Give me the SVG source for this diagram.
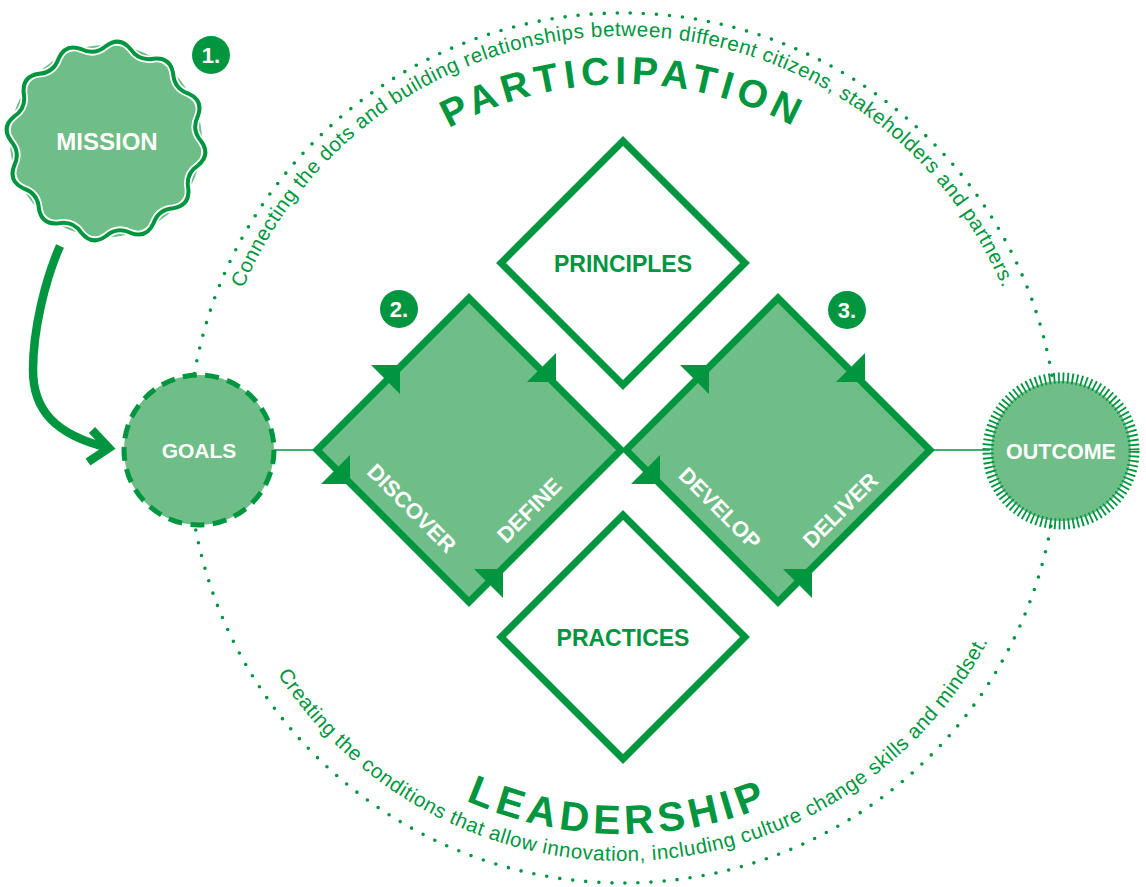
<svg xmlns="http://www.w3.org/2000/svg" xmlns:xlink="http://www.w3.org/1999/xlink" width="1146" height="887" viewBox="0 0 1146 887">
<style>
.dk{fill:#009640}
.lt{fill:#6fbd87}
.ln{fill:none;stroke:#009640}
.lbl{font-family:"Liberation Sans",Arial,sans-serif;font-weight:bold;fill:#ffffff;text-anchor:middle}
.glbl{font-family:"Liberation Sans",Arial,sans-serif;font-weight:bold;fill:#009640;text-anchor:middle}
.arc{font-family:"Liberation Sans",Arial,sans-serif;font-size:20.5px;fill:#009640}
.big{font-family:"Liberation Sans",Arial,sans-serif;font-weight:bold;fill:#009640}
</style>
<defs>
<path id="pTop" d="M 211 448 A 412 412 0 0 1 1035 448"/>
<path id="pBot" d="M 210 448 A 413 413 0 0 0 1036 448"/>
<path id="pPart" d="M 259 448 A 364 364 0 0 1 987 448"/>
<path id="pLead" d="M 237 448 A 386 386 0 0 0 1009 448"/>
<path id="ne" d="M0 0 L-29 0 L0 29Z" fill="#009640"/>
<path id="se" d="M0 0 L0 -29 L-29 0Z" fill="#009640"/>
<path id="wave" d="M95 0 Q105.09 13.83 91.76 24.59 Q79.46 32.91 82.27 47.5 Q84.10 64.53 67.17 67.17 Q52.36 68.23 47.5 82.27 Q40.57 97.93 24.59 91.76 Q11.22 85.26 0 95 Q-13.83 105.09 -24.59 91.76 Q-32.91 79.46 -47.5 82.27 Q-64.53 84.10 -67.17 67.17 Q-68.23 52.36 -82.27 47.5 Q-97.93 40.57 -91.76 24.59 Q-85.26 11.22 -95 0 Q-105.09 -13.83 -91.76 -24.59 Q-79.46 -32.91 -82.27 -47.5 Q-84.10 -64.53 -67.17 -67.17 Q-52.36 -68.23 -47.5 -82.27 Q-40.57 -97.93 -24.59 -91.76 Q-11.22 -85.26 0 -95 Q13.83 -105.09 24.59 -91.76 Q32.91 -79.46 47.5 -82.27 Q64.53 -84.10 67.17 -67.17 Q68.23 -52.36 82.27 -47.5 Q97.93 -40.57 91.76 -24.59 Q85.26 -11.22 95 0Z"/>
</defs>

<g id="ring">
<circle cx="623" cy="448" r="435" fill="none" stroke="#009640" stroke-width="3.6" stroke-linecap="round" stroke-dasharray="0 13.1"/>
<text class="arc"><textPath href="#pTop" startOffset="50%" text-anchor="middle" letter-spacing="0.55">Connecting the dots and building relationships between different citizens, stakeholders and partners.</textPath></text>
<text class="arc"><textPath href="#pBot" startOffset="51.5%" text-anchor="middle" letter-spacing="0.55">Creating the conditions that allow innovation, including culture change skills and mindset.</textPath></text>
<text class="big" font-size="39"><textPath href="#pPart" startOffset="50%" text-anchor="middle" letter-spacing="5.3">PARTICIPATION</textPath></text>
<text class="big" font-size="41"><textPath href="#pLead" startOffset="49.6%" text-anchor="middle" letter-spacing="5">LEADERSHIP</textPath></text>
</g>

<g id="connectors">
<path class="ln" stroke-width="8.5" d="M 60 246 C 45 280, 33 330, 33 370 C 33 410, 55 435, 109 448"/>
<path class="ln" stroke-width="8.5" stroke-miterlimit="10" d="M 92 430 L 109 448 L 88 462"/>
<line x1="270" y1="450" x2="318" y2="450" stroke="#009640" stroke-width="1.5"/>
<line x1="928" y1="450" x2="990" y2="450" stroke="#009640" stroke-width="1.5"/>
</g>

<g id="mission">
<circle class="lt" cx="106" cy="141" r="96"/>
<g transform="translate(106,141)">
<use href="#wave" fill="none" stroke="#ffffff" stroke-width="7.5"/>
<use href="#wave" fill="none" stroke="#009640" stroke-width="4"/>
</g>
<text class="lbl" x="107" y="150" font-size="24">MISSION</text>
<circle class="dk" cx="211" cy="55" r="19"/>
<text class="lbl" x="211" y="63" font-size="22">1.</text>
</g>

<g id="goals">
<circle class="lt" cx="199" cy="450" r="75" stroke="#009640" stroke-width="5" stroke-dasharray="14 8.44"/>
<text class="lbl" x="199" y="458" font-size="21">GOALS</text>
</g>

<g id="principles">
<path d="M623 141 L745 263 L623 385 L501 263Z" fill="#ffffff" stroke="#009640" stroke-width="7"/>
<text class="glbl" x="623" y="272" font-size="23">PRINCIPLES</text>
</g>

<g id="practices">
<path d="M623 515 L745 637 L623 759 L501 637Z" fill="#ffffff" stroke="#009640" stroke-width="7"/>
<text class="glbl" x="623" y="646" font-size="23">PRACTICES</text>
</g>

<g id="discover-define">
<path d="M469 298 L621 450 L469 602 L317 450Z" fill="#6fbd87" stroke="#009640" stroke-width="7"/>
<use href="#ne" x="400" y="365"/>
<use href="#se" x="556" y="382"/>
<use href="#se" x="350" y="484"/>
<use href="#ne" x="503" y="569"/>
<text class="lbl" font-size="22" transform="translate(412,508) rotate(45)" y="8">DISCOVER</text>
<text class="lbl" font-size="22" transform="translate(529,510) rotate(-45)" y="8">DEFINE</text>
<circle class="dk" cx="399" cy="309" r="19"/>
<text class="lbl" x="399" y="317" font-size="22">2.</text>
</g>

<g id="develop-deliver">
<path d="M778 298 L930 450 L778 602 L626 450Z" fill="#6fbd87" stroke="#009640" stroke-width="7"/>
<use href="#ne" x="709" y="365"/>
<use href="#se" x="865" y="382"/>
<use href="#se" x="660" y="484"/>
<use href="#ne" x="812" y="569"/>
<text class="lbl" font-size="22" transform="translate(720,508) rotate(45)" y="8">DEVELOP</text>
<text class="lbl" font-size="22" transform="translate(840,510) rotate(-45)" y="8">DELIVER</text>
<circle class="dk" cx="847" cy="310" r="19"/>
<text class="lbl" x="847" y="318" font-size="22">3.</text>
</g>

<g id="outcome">
<circle class="lt" cx="1061" cy="451" r="70"/>
<circle cx="1061" cy="451" r="73" fill="none" stroke="#009640" stroke-width="11" stroke-dasharray="1.8 2.8"/>
<text class="lbl" x="1061" y="459" font-size="21.5">OUTCOME</text>
</g>
</svg>
